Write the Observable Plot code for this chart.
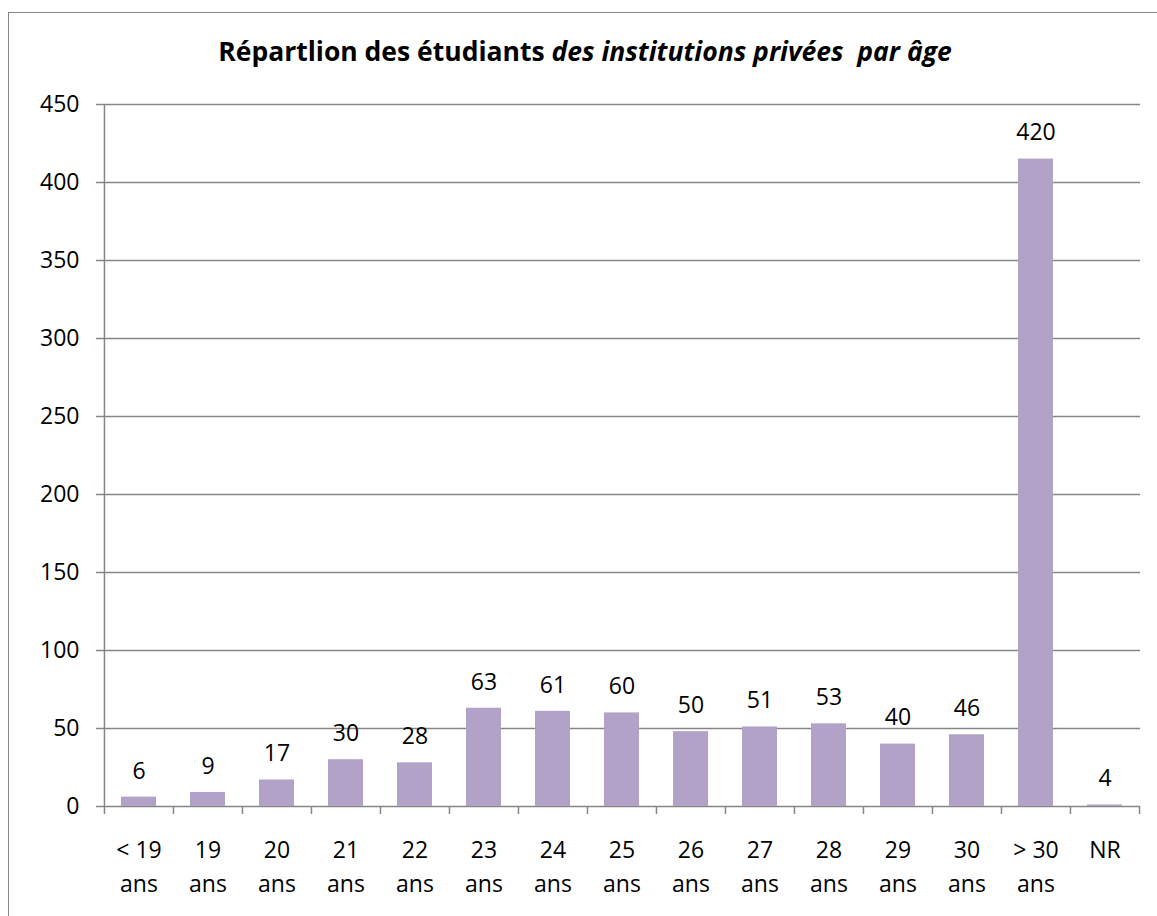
<!DOCTYPE html>
<html>
<head>
<meta charset="utf-8">
<script src="https://cdn.jsdelivr.net/npm/d3@7"></script>
<script src="https://cdn.jsdelivr.net/npm/@observablehq/plot@0.6"></script>
<style>
  html, body { margin: 0; padding: 0; background: #fff; width: 1157px; height: 916px; overflow: hidden; }
  #frame { position: absolute; left: 8px; top: 12px; width: 1300px; height: 1100px; border: 1.5px solid #878787; box-sizing: border-box; }
  #title { position: absolute; left: 0; top: 37px; width: 1170px; text-align: center; font-family: "Open Sans", sans-serif; font-weight: bold; font-size: 26.5px; line-height: 28px; color: #000; white-space: pre; }
  #chart { position: absolute; left: 0; top: 0; }
</style>
</head>
<body>
<div id="frame"></div>
<div id="chart"></div>
<div id="title">Répartlion des étudiants <i>des institutions privées  par âge</i></div>
<script>
const categories = ["< 19\nans", "19\nans", "20\nans", "21\nans", "22\nans", "23\nans", "24\nans", "25\nans", "26\nans", "27\nans", "28\nans", "29\nans", "30\nans", "> 30\nans", "NR"];
const barValues = [6, 9, 17, 30, 28, 63, 61, 60, 48, 51, 53, 40, 46, 415, 1];
const dataLabels = [6, 9, 17, 30, 28, 63, 61, 60, 50, 51, 53, 40, 46, 420, 4];
const yTicks = [0, 50, 100, 150, 200, 250, 300, 350, 400, 450];

const data = categories.map((c, i) => ({cat: c, value: barValues[i], label: dataLabels[i]}));

const W = 1157, H = 916, mL = 104, mR = 17, mT = 104, mB = 110;
const step = (W - mL - mR) / categories.length;
const gray = "#868686";

const chart = Plot.plot({
  width: W, height: H,
  marginLeft: mL, marginRight: mR, marginTop: mT, marginBottom: mB,
  style: {fontFamily: "'Open Sans', sans-serif", fontSize: "23px", color: "#000", background: "transparent", overflow: "visible"},
  x: {domain: categories, paddingInner: 0.49, paddingOuter: 0.245},
  y: {domain: [0, 450]},
  marks: [
    Plot.ruleY(yTicks, {stroke: gray, strokeWidth: 1.5}),
    Plot.barY(data, {x: "cat", y: "value", fill: "#b2a2c7"}),
    Plot.ruleX([categories[0]], {y1: 0, y2: 450, dx: -step / 2, stroke: gray, strokeWidth: 1.5}),
    Plot.axisY({ticks: yTicks, tickSize: 8, tickPadding: 17, stroke: gray, strokeWidth: 1.5, fill: "#000", label: null, fontSize: 23}),
    Plot.axisX({ticks: categories, tickSize: 8, dx: -step / 2, stroke: gray, strokeWidth: 1.5, tickFormat: () => "", label: null}),
    Plot.axisX({ticks: [categories[categories.length - 1]], tickSize: 8, dx: step / 2, stroke: gray, strokeWidth: 1.5, tickFormat: () => "", label: null}),
    Plot.text(categories, {x: d => d, text: d => d, frameAnchor: "bottom", lineAnchor: "top", dy: 28, lineHeight: 1.45, fill: "#000", fontSize: 23}),
    Plot.text(data, {x: "cat", y: "value", text: "label", dy: -26, fill: "#000", fontSize: 23})
  ]
});
document.getElementById("chart").appendChild(chart);
</script>
</body>
</html>
